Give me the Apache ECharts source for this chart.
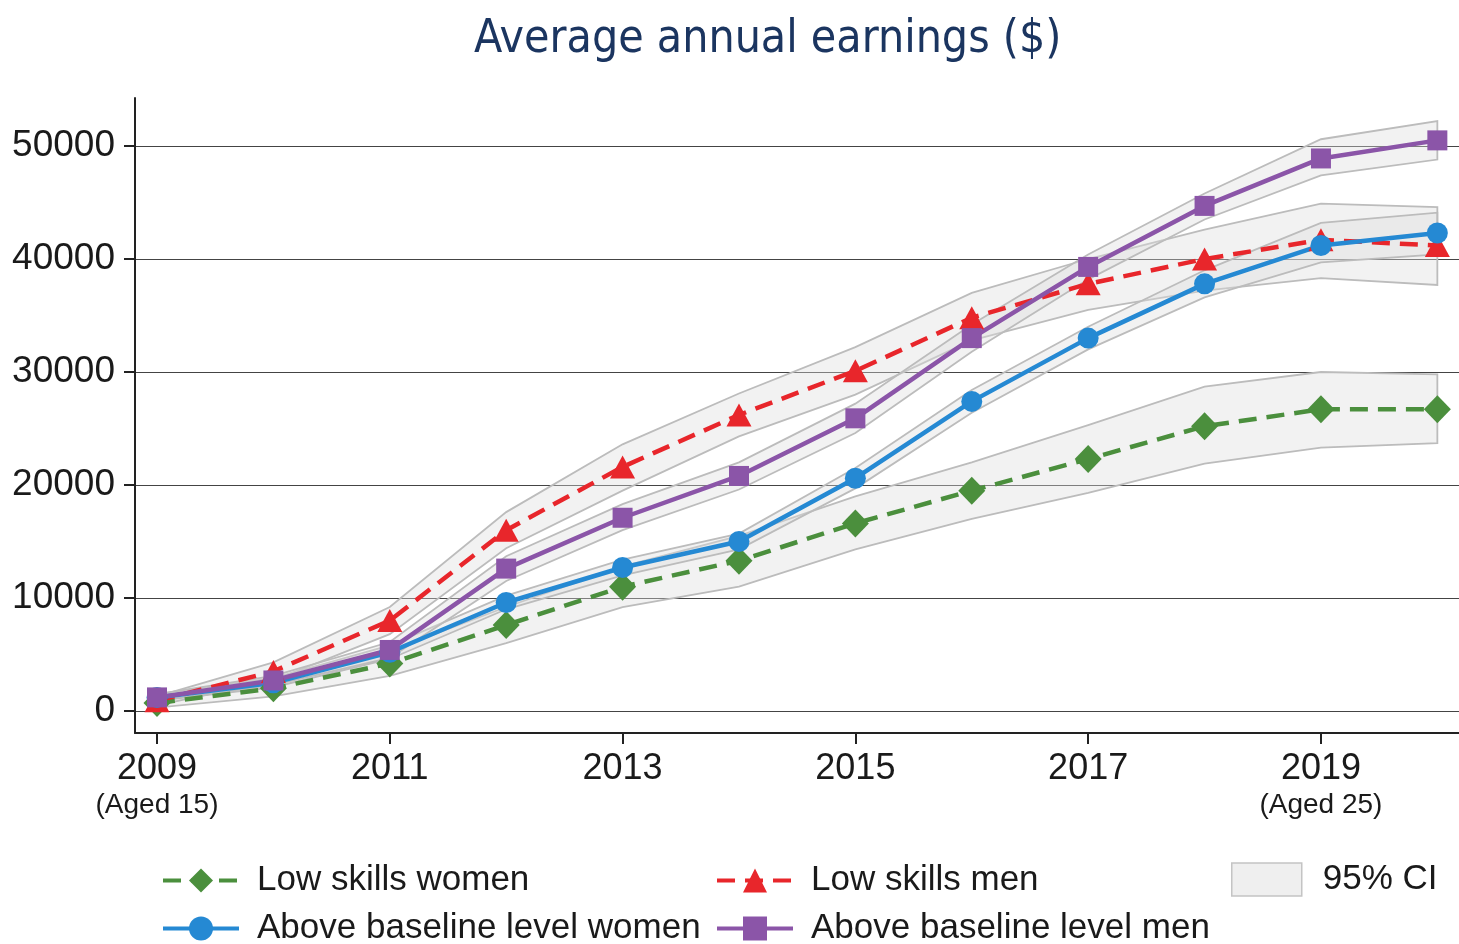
<!DOCTYPE html>
<html>
<head>
<meta charset="utf-8">
<title>Average annual earnings</title>
<script src="https://cdn.jsdelivr.net/npm/echarts@6/dist/echarts.min.js"></script>
<style>
  html, body { margin: 0; padding: 0; background: #fff; }
  #main { width: 1459px; height: 944px; }
</style>
</head>
<body>
<div id="main"></div>
<script>
// years on the x axis
var years = [2009, 2010, 2011, 2012, 2013, 2014, 2015, 2016, 2017, 2018, 2019, 2020];

// point estimates
var lowWomen   = [700, 2000, 4200, 7600, 11000, 13300, 16600, 19500, 22300, 25200, 26700, 26700];
var lowMen     = [900, 3500, 8000, 16000, 21600, 26200, 30100, 34800, 37800, 40000, 41700, 41200];
var aboveWomen = [1200, 2500, 5200, 9600, 12700, 15000, 20600, 27400, 33000, 37800, 41200, 42300];
var aboveMen   = [1200, 2700, 5400, 12600, 17100, 20800, 25900, 33000, 39300, 44700, 48900, 50500];

// 95% confidence intervals (lower / upper)
var lowWomenLo   = [300, 1300, 3100, 6000, 9200, 11000, 14300, 17000, 19300, 21900, 23300, 23700];
var lowWomenHi   = [1100, 2700, 5300, 9200, 12800, 15500, 19000, 22000, 25300, 28700, 30000, 29800];
var lowMenLo     = [500, 2700, 6800, 14400, 19500, 24300, 28000, 32800, 35500, 37200, 38300, 37700];
var lowMenHi     = [1300, 4300, 9200, 17600, 23600, 28100, 32200, 37000, 40000, 42600, 44900, 44600];
var aboveWomenLo = [900, 2100, 4600, 9000, 12000, 14300, 19700, 26400, 32000, 36600, 39700, 40400];
var aboveWomenHi = [1500, 2900, 5800, 10200, 13400, 15700, 21500, 28400, 34000, 39000, 43200, 44100];
var aboveMenLo   = [900, 2300, 4700, 11500, 16000, 19600, 24600, 31800, 38200, 43500, 47400, 48800];
var aboveMenHi   = [1500, 3100, 6100, 13700, 18300, 22000, 27200, 34200, 40400, 45800, 50600, 52200];

// axis ticks
var xTicks = [2009, 2011, 2013, 2015, 2017, 2019];
var xSubLabels = { 2009: '(Aged 15)', 2019: '(Aged 25)' };
var yTicks = [0, 10000, 20000, 30000, 40000, 50000];

var seriesNames = ['Low skills women', 'Low skills men', 'Above baseline level women', 'Above baseline level men'];
var FONT = 'Liberation Sans, Arial, sans-serif';

function pairs(vals) {
  return years.map(function (y, i) { return [y, vals[i]]; });
}

// CI band: one closed polygon (upper edge then lower edge back), drawn via the axis scales
function band(lo, hi) {
  return {
    name: '95% CI', type: 'custom', z: 1, silent: true,
    itemStyle: { color: '#efefef' },
    data: years.map(function (y, i) { return [y, lo[i], hi[i]]; }),
    renderItem: function (params, api) {
      if (params.dataIndex !== 0) return null;
      var pts = [];
      for (var i = 0; i < years.length; i++) pts.push(api.coord([years[i], hi[i]]));
      for (var j = years.length - 1; j >= 0; j--) pts.push(api.coord([years[j], lo[j]]));
      return {
        type: 'polygon',
        shape: { points: pts },
        style: { fill: 'rgba(222,222,222,0.38)', stroke: '#bcbcbc', lineWidth: 1.8 }
      };
    }
  };
}

function mainLine(name, vals, color, symbol, size, dashed) {
  return {
    name: name, type: 'line', data: pairs(vals), z: 3,
    symbol: symbol, symbolSize: size,
    itemStyle: { color: color },
    lineStyle: { color: color, width: 4.5, type: dashed ? [18, 10] : 'solid' }
  };
}

var series = [
  band(lowWomenLo, lowWomenHi),
  band(lowMenLo, lowMenHi),
  band(aboveWomenLo, aboveWomenHi),
  band(aboveMenLo, aboveMenHi),
  mainLine(seriesNames[0], lowWomen, '#4b8f3d', 'diamond', [27, 28], true),
  mainLine(seriesNames[1], lowMen, '#e8262b', 'triangle', [25, 23], true),
  mainLine(seriesNames[2], aboveWomen, '#2589d3', 'circle', 21, false),
  mainLine(seriesNames[3], aboveMen, '#8b55a8', 'rect', 20, false)
];

function legendAt(name, left, top) {
  return {
    left: left, top: top, itemWidth: 76, itemHeight: 30, data: [name],
    lineStyle: { width: 4 },
    textStyle: { fontFamily: FONT, fontSize: 35, color: '#1a1a1a', padding: [0, 0, 0, 13] }
  };
}

var chart = echarts.init(document.getElementById('main'));
chart.setOption({
  animation: false,
  title: {
    text: 'Average annual earnings ($)',
    left: 469, top: 12,
    textStyle: { fontFamily: 'DejaVu Sans Condensed, DejaVu Sans, sans-serif', fontWeight: 'normal', fontSize: 46, color: '#1b3560' }
  },
  grid: { left: 135, right: 0, top: 98, bottom: 211, containLabel: false },
  xAxis: {
    type: 'value', min: 2008.811, max: 2020.186,
    axisLine: { onZero: false, lineStyle: { color: '#222', width: 2 } },
    axisTick: { customValues: xTicks, length: 11, lineStyle: { color: '#222', width: 2 } },
    axisLabel: {
      customValues: xTicks, margin: 16,
      fontFamily: FONT, fontSize: 36, color: '#1a1a1a', lineHeight: 40,
      formatter: function (v) {
        var s = String(v);
        return xSubLabels[v] ? s + '\n{s|' + xSubLabels[v] + '}' : s;
      },
      rich: { s: { fontFamily: FONT, fontSize: 28, color: '#1a1a1a', lineHeight: 32 } }
    },
    splitLine: { show: false }
  },
  yAxis: {
    type: 'value', min: -1950, max: 54250,
    axisLine: { show: true, lineStyle: { color: '#222', width: 2 } },
    axisTick: { show: true, customValues: yTicks, length: 11, lineStyle: { color: '#222', width: 2 } },
    axisLabel: {
      customValues: yTicks, margin: 20,
      fontFamily: FONT, fontSize: 37, color: '#1a1a1a',
      formatter: function (v) { return String(v); }
    },
    splitLine: { show: true, lineStyle: { color: '#444', width: 1.2 } }
  },
  legend: [
    legendAt(seriesNames[0], 156, 858),
    legendAt(seriesNames[2], 156, 906),
    legendAt(seriesNames[1], 710, 858),
    legendAt(seriesNames[3], 710, 906),
    {
      left: 1226, top: 857, itemWidth: 70, itemHeight: 33,
      data: [{ name: '95% CI', icon: 'rect', itemStyle: { color: '#efefef', borderColor: '#c4c4c4', borderWidth: 1.5 } }],
      textStyle: { fontFamily: FONT, fontSize: 35, color: '#1a1a1a', padding: [0, 0, 0, 16] }
    }
  ],
  series: series
});
</script>
</body>
</html>
